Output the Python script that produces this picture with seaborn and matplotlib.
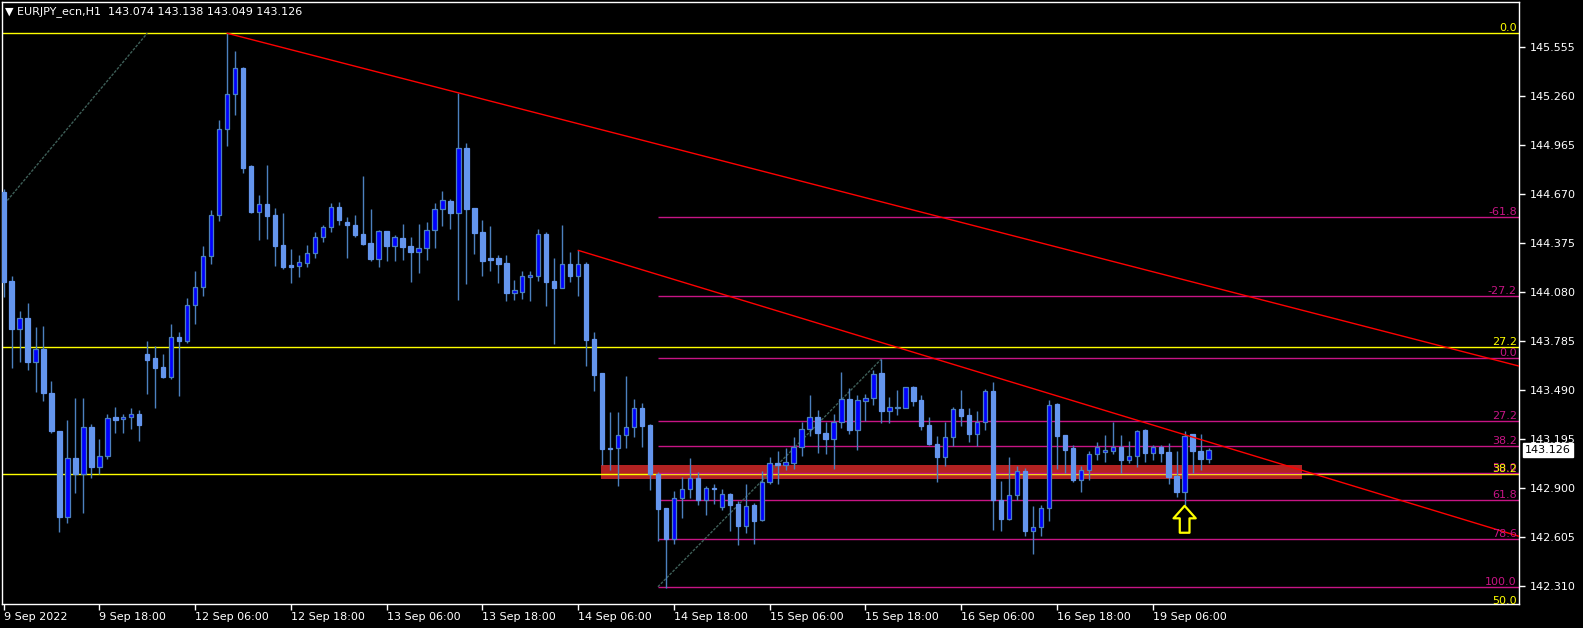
import matplotlib
matplotlib.use('Agg')
import numpy as np
import pandas as pd
import seaborn as sns
import matplotlib.pyplot as plt

# EURJPY H1 candles (bar 0 = 9 Sep 06:00)
OPEN = [144.680, 144.144, 143.855, 143.919, 143.658, 143.734, 143.467, 143.238, 142.725, 143.076,
        142.981, 143.262, 143.026, 143.088, 143.325, 143.311, 143.323, 143.341, 143.704, 143.680,
        143.626, 143.566, 143.806, 143.784, 143.997, 144.105, 144.292, 144.539, 145.057, 145.267,
        145.424, 144.836, 144.561, 144.607, 144.541, 144.360, 144.240, 144.236, 144.254, 144.310,
        144.410, 144.467, 144.587, 144.499, 144.479, 144.425, 144.370, 144.274, 144.443, 144.356,
        144.400, 144.354, 144.320, 144.344, 144.448, 144.575, 144.623, 144.551, 144.942, 144.581,
        144.436, 144.280, 144.282, 144.250, 144.073, 144.079, 144.165, 144.171, 144.424, 144.141,
        144.103, 144.244, 144.175, 144.244, 143.792, 143.587, 143.136, 143.136, 143.214, 143.262,
        143.376, 143.276, 142.981, 142.774, 142.592, 142.840, 142.889, 142.955, 142.824, 142.895,
        142.780, 142.859, 142.798, 142.670, 142.792, 142.706, 142.931, 143.045, 143.037, 143.049,
        143.144, 143.250, 143.322, 143.228, 143.190, 143.294, 143.433, 143.248, 143.419, 143.437,
        143.589, 143.362, 143.380, 143.380, 143.503, 143.427, 143.276, 143.162, 143.085, 143.204,
        143.372, 143.336, 143.224, 143.296, 143.481, 142.826, 142.712, 142.856, 142.997, 142.640,
        142.660, 142.774, 143.402, 143.214, 143.137, 142.947, 143.003, 143.099, 143.115, 143.123,
        143.145, 143.067, 143.087, 143.246, 143.105, 143.145, 143.113, 142.969, 142.874, 143.222,
        143.119, 143.074]
HIGH = [144.700, 144.174, 143.963, 144.011, 143.867, 143.873, 143.541, 143.242, 143.307, 143.437,
        143.437, 143.281, 143.190, 143.343, 143.385, 143.343, 143.379, 143.367, 143.782, 143.752,
        143.704, 143.885, 143.834, 144.041, 144.204, 144.354, 144.571, 145.113, 145.635, 145.528,
        145.430, 144.840, 144.661, 144.842, 144.583, 144.553, 144.336, 144.300, 144.360, 144.437,
        144.481, 144.613, 144.619, 144.529, 144.541, 144.776, 144.577, 144.451, 144.445, 144.418,
        144.487, 144.408, 144.486, 144.498, 144.613, 144.685, 144.637, 145.276, 144.974, 144.585,
        144.510, 144.474, 144.300, 144.300, 144.147, 144.201, 144.201, 144.454, 144.436, 144.280,
        144.480, 144.316, 144.328, 144.256, 143.834, 143.590, 143.352, 143.352, 143.569, 143.431,
        143.406, 143.282, 142.991, 142.776, 142.877, 142.965, 143.077, 142.991, 142.909, 142.921,
        142.889, 142.865, 142.820, 142.921, 142.804, 143.000, 143.083, 143.119, 143.138, 143.204,
        143.294, 143.457, 143.366, 143.294, 143.342, 143.595, 143.499, 143.457, 143.463, 143.607,
        143.673, 143.445, 143.487, 143.503, 143.511, 143.457, 143.324, 143.210, 143.294, 143.384,
        143.487, 143.378, 143.360, 143.493, 143.535, 142.939, 143.083, 143.029, 143.017, 142.788,
        142.794, 143.426, 143.408, 143.216, 143.155, 143.029, 143.119, 143.173, 143.216, 143.296,
        143.216, 143.180, 143.246, 143.252, 143.155, 143.155, 143.167, 143.119, 143.240, 143.224,
        143.222, 143.138]
LOW = [144.045, 143.622, 143.658, 143.608, 143.477, 143.423, 143.230, 142.634, 142.685, 142.869,
       142.749, 142.959, 142.981, 143.074, 143.230, 143.230, 143.254, 143.182, 143.465, 143.381,
       143.562, 143.556, 143.453, 143.772, 143.887, 144.055, 144.246, 144.505, 144.958, 145.143,
       144.796, 144.555, 144.392, 144.398, 144.236, 144.218, 144.134, 144.170, 144.230, 144.284,
       144.380, 144.441, 144.483, 144.284, 144.410, 144.360, 144.266, 144.230, 144.266, 144.266,
       144.270, 144.139, 144.193, 144.270, 144.344, 144.474, 144.458, 144.029, 144.127, 144.308,
       144.175, 144.205, 144.133, 144.025, 144.031, 144.037, 144.025, 144.145, 143.995, 143.766,
       144.103, 144.139, 144.055, 143.633, 143.481, 143.035, 143.005, 142.911, 143.136, 143.206,
       143.146, 142.887, 142.580, 142.293, 142.562, 142.718, 142.838, 142.794, 142.736, 142.802,
       142.764, 142.640, 142.555, 142.628, 142.561, 142.700, 142.921, 142.921, 143.003, 143.013,
       143.089, 143.210, 143.107, 143.101, 143.013, 143.258, 143.224, 143.127, 143.300, 143.396,
       143.290, 143.290, 143.336, 143.380, 143.390, 143.246, 143.156, 142.935, 143.029, 143.150,
       143.270, 143.174, 143.150, 143.246, 142.644, 142.640, 142.706, 142.826, 142.610, 142.501,
       142.610, 142.700, 143.013, 142.987, 142.933, 142.872, 142.945, 143.065, 143.053, 143.101,
       142.987, 143.049, 143.025, 143.055, 143.067, 143.055, 142.923, 142.844, 142.796, 142.989,
       143.005, 143.049]
CLOSE = [144.140, 143.855, 143.919, 143.658, 143.734, 143.471, 143.242, 142.725, 143.076, 142.981,
         143.262, 143.026, 143.088, 143.317, 143.309, 143.323, 143.341, 143.279, 143.670, 143.622,
         143.566, 143.806, 143.784, 143.997, 144.105, 144.292, 144.539, 145.057, 145.267, 145.424,
         144.826, 144.561, 144.607, 144.537, 144.356, 144.230, 144.230, 144.256, 144.310, 144.406,
         144.467, 144.587, 144.511, 144.483, 144.423, 144.368, 144.276, 144.443, 144.356, 144.406,
         144.350, 144.320, 144.340, 144.448, 144.575, 144.629, 144.555, 144.942, 144.579, 144.434,
         144.266, 144.268, 144.248, 144.073, 144.087, 144.171, 144.177, 144.424, 144.139, 144.103,
         144.244, 144.175, 144.244, 143.790, 143.579, 143.134, 143.134, 143.214, 143.262, 143.376,
         143.272, 142.981, 142.772, 142.588, 142.840, 142.889, 142.955, 142.824, 142.895, 142.893,
         142.859, 142.796, 142.670, 142.786, 142.700, 142.931, 143.045, 143.035, 143.051, 143.144,
         143.252, 143.322, 143.226, 143.192, 143.294, 143.433, 143.248, 143.425, 143.437, 143.583,
         143.362, 143.382, 143.380, 143.503, 143.423, 143.270, 143.162, 143.085, 143.204, 143.372,
         143.332, 143.224, 143.296, 143.481, 142.824, 142.712, 142.853, 142.997, 142.638, 142.660,
         142.774, 143.394, 143.212, 143.127, 142.947, 143.003, 143.099, 143.145, 143.129, 143.145,
         143.067, 143.087, 143.240, 143.109, 143.145, 143.109, 142.965, 142.874, 143.212, 143.121,
         143.073, 143.126]

TIME_LABELS = ["9 Sep 2022", "9 Sep 18:00", "12 Sep 06:00", "12 Sep 18:00", "13 Sep 06:00",
               "13 Sep 18:00", "14 Sep 06:00", "14 Sep 18:00", "15 Sep 06:00", "15 Sep 18:00",
               "16 Sep 06:00", "16 Sep 18:00", "19 Sep 06:00"]
PRICE_TICKS = [145.555, 145.260, 144.965, 144.670, 144.375, 144.080, 143.785,
               143.490, 143.195, 142.900, 142.605, 142.310]
LAST_PRICE = 143.126
TITLE = "\u25bc EURJPY_ecn,H1  143.074 143.138 143.049 143.126"

# fibonacci levels
YEL_LEVELS = ["0.0", "27.2", "38.2", "50.0"]
YEL_PRICES = [145.635, 143.744, 142.979, 142.185]
YEL_BASE_X = [-0.2, 18]
YEL_BASE_P = [144.59, 145.635]
MAG_LEVELS = ["-61.8", "-27.2", "0.0", "27.2", "38.2", "50.0", "61.8", "78.6", "100.0"]
MAG_PRICES = [144.530, 144.055, 143.677, 143.300, 143.149, 142.990, 142.826, 142.590, 142.303]
MAG_START = 82
MAG_BASE_X = [82, 110]
MAG_BASE_P = [142.303, 143.674]

# trendlines and support zone
TL1_X = [28, 190]
TL1_P = [145.635, 143.630]
TL2_X = [72, 190]
TL2_P = [144.328, 142.605]
ZONE_X = [74.9, 162.7]
ZONE_P = [142.951, 143.035]
ARROW_BAR = 148
ARROW_P = [142.628, 142.790]

df = pd.DataFrame({"open": OPEN, "high": HIGH, "low": LOW, "close": CLOSE})
df["bar"] = np.arange(len(df))
df["bull"] = df["close"] >= df["open"]

sns.set_style("dark", {"axes.facecolor": "black", "figure.facecolor": "black"})
plt.rcParams['font.family'] = ['DejaVu Sans']

W, H = 1583, 628
fig = plt.figure(figsize=(W / 100, H / 100), dpi=100, facecolor='black')
ax = fig.add_axes([2 / W, (H - 603.5) / H, 1517 / W, 601.5 / H])
ax.set_facecolor('black')

# support zone
ax.fill_between(ZONE_X, ZONE_P[0], ZONE_P[1], color='#B22222', lw=0, zorder=1)

# fib levels
for lev, p in zip(YEL_LEVELS, YEL_PRICES):
    ax.axhline(p, color='#FFFF00', lw=1, zorder=2)
for lev, p in zip(MAG_LEVELS, MAG_PRICES):
    ax.hlines(p, MAG_START, 200, color='#C71585', lw=1, zorder=2)
sns.lineplot(x=YEL_BASE_X, y=YEL_BASE_P, ax=ax, color='#3E5F58', lw=1, linestyle=(0, (2, 1)), zorder=2)
sns.lineplot(x=MAG_BASE_X, y=MAG_BASE_P, ax=ax, color='#3E5F58', lw=1, linestyle=(0, (2, 1)), zorder=2)

# candles
wick_col = '#4C80BE'
ax.vlines(df["bar"], df["low"], df["high"], color=wick_col, lw=1, zorder=3)
body_lo = df[["open", "close"]].min(axis=1)
body_h = (df["close"] - df["open"]).abs().clip(lower=0.004)
bull = df["bull"]
ax.bar(df["bar"][bull], body_h[bull], bottom=body_lo[bull], width=0.55,
       color='#0000FF', edgecolor=wick_col, lw=0.9, zorder=3)
ax.bar(df["bar"][~bull], body_h[~bull], bottom=body_lo[~bull], width=0.55,
       color='#6495ED', edgecolor='#6495ED', lw=0.9, zorder=3)

# trendlines
sns.lineplot(x=TL1_X, y=TL1_P, ax=ax, color='#FF0000', lw=1, zorder=4)
sns.lineplot(x=TL2_X, y=TL2_P, ax=ax, color='#FF0000', lw=1, zorder=4)

# arrow
ax.annotate('', xy=(ARROW_BAR, ARROW_P[1]), xytext=(ARROW_BAR, ARROW_P[0]),
            arrowprops=dict(arrowstyle='simple,head_length=0.45,head_width=0.8,tail_width=0.35',
                            fc='black', ec='#FFFF00', lw=1.6, shrinkA=0, shrinkB=0,
                            mutation_scale=20), zorder=5)

# level labels
tr = ax.get_yaxis_transform()
for lev, p in zip(MAG_LEVELS, MAG_PRICES):
    ax.text(0.9985, p, lev, transform=tr, ha='right', va='bottom', color='#C71585',
            fontsize=8, zorder=5, clip_on=True)
for lev, p in zip(YEL_LEVELS, YEL_PRICES):
    ax.text(0.9985, p, lev, transform=tr, ha='right', va='bottom', color='#FFFF00',
            fontsize=8, zorder=5, clip_on=True)

ax.set_xlim(-0.2, 189.9)
ax.set_ylim(142.202, 145.823)

ax.yaxis.tick_right()
ax.set_yticks(PRICE_TICKS)
ax.set_yticklabels([f"{p:.3f}" for p in PRICE_TICKS])
ax.set_xticks(np.arange(len(TIME_LABELS)) * 12)
ax.set_xticklabels(TIME_LABELS)
for lab in ax.get_xticklabels():
    lab.set_horizontalalignment('left')
ax.tick_params(axis='both', colors='white', labelcolor='white', labelsize=8,
               direction='out', length=4, width=1)
ax.tick_params(axis='y', pad=4, right=True, left=False)
ax.tick_params(axis='x', pad=2, bottom=True)
ax.grid(False)
for s in ax.spines.values():
    s.set_color('white')
    s.set_linewidth(1)
    s.set_visible(True)
ax.set_xlabel('')
ax.set_ylabel('')

# current price box
ax.text(1 + 6 / 1517, LAST_PRICE, f"{LAST_PRICE:.3f}", transform=tr, ha='left', va='center',
        color='black', fontsize=8, zorder=10, clip_on=False,
        bbox=dict(boxstyle='square,pad=0.2', fc='white', ec='white'))

fig.text(5 / W, 1 - 12 / H, TITLE, color='white', fontsize=8, va='center', ha='left')

fig.savefig('out.png', dpi=100, facecolor='black')
